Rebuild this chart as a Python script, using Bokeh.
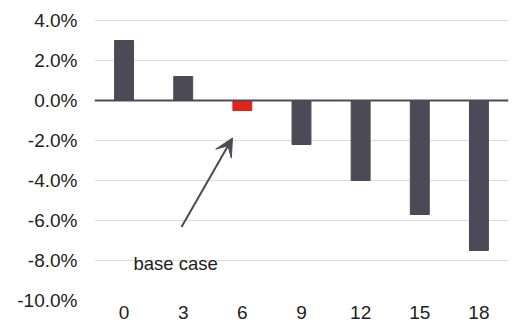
from bokeh.plotting import figure
from bokeh.models import ColumnDataSource, Span, Arrow, VeeHead, Label, FixedTicker, PrintfTickFormatter
from bokeh.embed import file_html
from bokeh.resources import INLINE

categories = ["0", "3", "6", "9", "12", "15", "18"]
values = [3.0, 1.2, -0.5, -2.2, -4.0, -5.7, -7.5]
bar_colors = ["#4b4a56", "#4b4a56", "#e2231a", "#4b4a56", "#4b4a56", "#4b4a56", "#4b4a56"]
y_ticks = [-10, -8, -6, -4, -2, 0, 2, 4]
annotation_text = "base case"

FONT = "Liberation Sans"

src = ColumnDataSource(dict(cat=categories, val=values, color=bar_colors))

p = figure(x_range=categories, y_range=(-10, 4.5), frame_width=414, frame_height=290,
           min_border_left=94, min_border_right=7, min_border_top=10, min_border_bottom=29,
           output_backend="svg", toolbar_location=None)

p.vbar(x="cat", top="val", bottom=0, width=0.32, source=src,
       fill_color="color", line_color="color")

p.add_layout(Span(location=0, dimension="width", line_color="#4b4a56", line_width=2))

p.add_layout(Arrow(end=VeeHead(size=18, fill_color="#4b4a56", line_color="#4b4a56"),
                   x_start=1.471, y_start=-6.33, x_end=2.333, y_end=-1.875,
                   line_color="#4b4a56", line_width=2))

p.add_layout(Label(x=0.66, y=-8.15, text=annotation_text, text_font=FONT,
                   text_font_size="18.5px", text_color="#222222",
                   text_baseline="alphabetic", text_align="left"))

p.outline_line_color = None
p.xgrid.grid_line_color = None
p.ygrid.grid_line_color = "#dddddd"
p.ygrid.grid_line_width = 1

p.yaxis.ticker = FixedTicker(ticks=y_ticks)
p.yaxis.formatter = PrintfTickFormatter(format="%.1f%%")
for ax in (p.xaxis, p.yaxis):
    ax.axis_line_color = None
    ax.major_tick_line_color = None
    ax.minor_tick_line_color = None
    ax.major_tick_out = 0
    ax.major_tick_in = 0
    ax.major_label_text_font = FONT
    ax.major_label_text_font_size = "19px"
    ax.major_label_text_color = "#222222"
p.yaxis.major_label_standoff = 17
p.xaxis.major_label_standoff = 5
p.xaxis.major_label_text_baseline = "alphabetic"
p.xaxis.major_label_text_line_height = 1.0

open("out.html", "w").write(file_html(p, INLINE))
